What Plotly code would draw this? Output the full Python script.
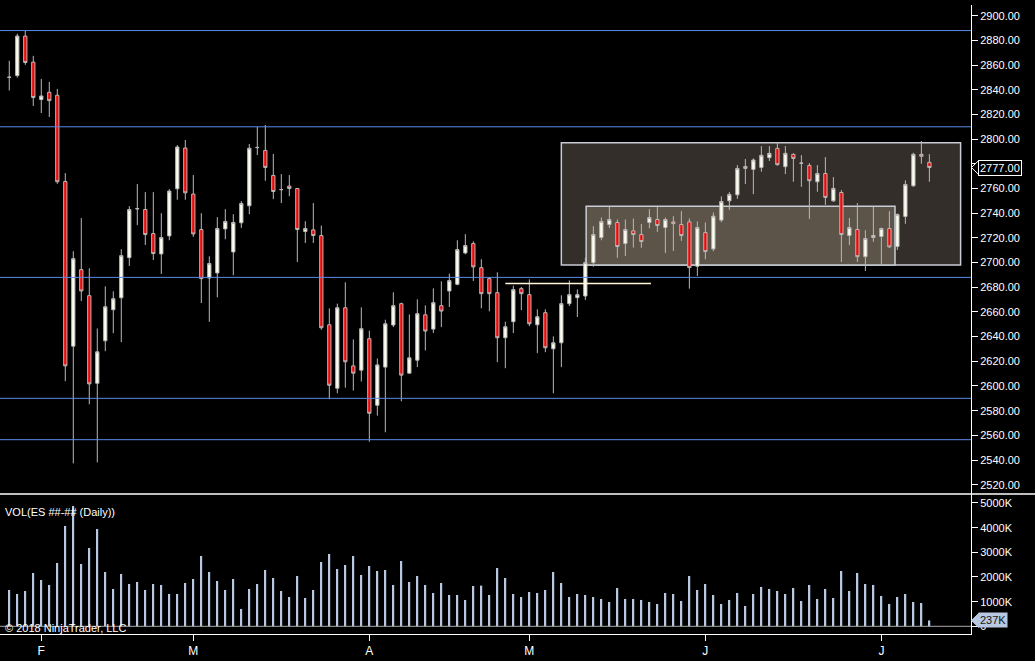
import plotly.graph_objects as go

# daily ES bars, late Jan to early Jul 2018
opens = [2850.0, 2851.5, 2883.5, 2862.4, 2832.1, 2838.0, 2835.6, 2765.7, 2632.3, 2694.3,
         2673.2, 2602.2, 2636.6, 2661.8, 2671.5, 2704.0, 2743.5, 2743.0, 2723.5, 2707.0,
         2721.6, 2759.8, 2792.8, 2755.5, 2726.8, 2687.5, 2691.6, 2727.3, 2708.6, 2732.2,
         2746.0, 2793.1, 2790.9, 2770.6, 2759.0, 2762.0, 2760.0, 2725.2, 2726.5, 2721.9,
         2649.6, 2598.2, 2663.4, 2616.3, 2612.8, 2638.3, 2584.4, 2615.3, 2649.4, 2666.7,
         2610.4, 2620.9, 2657.7, 2646.1, 2665.1, 2677.0, 2682.4, 2707.8, 2715.4, 2695.9,
         2687.0, 2675.6, 2639.1, 2652.1, 2678.9, 2674.0, 2649.6, 2659.4, 2630.1, 2635.0,
         2666.7, 2671.6, 2672.9, 2700.0, 2720.3, 2730.8, 2732.5, 2715.4, 2725.7, 2722.7,
         2732.5, 2734.9, 2728.4, 2733.0, 2730.8, 2733.0, 2697.0, 2724.3, 2711.1, 2734.4,
         2750.0, 2754.9, 2777.9, 2775.5, 2777.1, 2785.0, 2792.5, 2777.7, 2787.7, 2780.4,
         2778.7, 2765.5, 2772.2, 2750.0, 2756.8, 2721.9, 2726.8, 2704.8, 2720.3, 2721.1,
         2727.6, 2713.0, 2737.3, 2762.2, 2787.7, 2781.2]
highs = [2863.5, 2885.4, 2887.8, 2867.5, 2848.8, 2846.4, 2840.7, 2772.5, 2709.2, 2736.0,
         2695.4, 2646.6, 2680.7, 2676.7, 2710.8, 2745.7, 2763.6, 2757.1, 2757.1, 2740.0,
         2759.5, 2795.2, 2799.3, 2770.9, 2740.0, 2705.1, 2736.8, 2743.3, 2739.2, 2749.8,
         2796.1, 2809.9, 2811.5, 2788.0, 2771.7, 2770.9, 2760.5, 2733.5, 2748.2, 2730.0,
         2662.9, 2666.7, 2684.0, 2637.7, 2663.7, 2644.8, 2622.3, 2653.7, 2675.9, 2667.5,
         2658.0, 2670.2, 2665.3, 2679.1, 2684.8, 2691.0, 2718.1, 2723.0, 2717.3, 2702.7,
         2688.3, 2692.1, 2652.1, 2681.3, 2680.2, 2686.4, 2662.1, 2662.1, 2640.2, 2673.5,
         2685.6, 2678.3, 2704.0, 2729.5, 2736.5, 2745.2, 2734.9, 2734.9, 2735.7, 2731.3,
         2743.3, 2744.9, 2736.5, 2737.6, 2741.7, 2735.7, 2733.3, 2732.5, 2740.6, 2753.6,
         2757.1, 2779.0, 2783.9, 2784.4, 2794.4, 2794.4, 2797.4, 2794.4, 2788.5, 2787.1,
         2780.6, 2779.0, 2785.5, 2769.3, 2758.7, 2736.0, 2748.2, 2726.2, 2745.5, 2728.4,
         2741.7, 2739.8, 2766.6, 2789.0, 2798.5, 2787.9]
lows = [2839.4, 2849.9, 2860.2, 2826.9, 2821.2, 2818.0, 2763.8, 2603.9, 2537.3, 2668.8,
        2585.2, 2538.1, 2628.2, 2642.8, 2635.5, 2697.2, 2730.3, 2714.3, 2702.1, 2690.8,
        2718.1, 2750.9, 2750.9, 2720.8, 2667.2, 2652.0, 2671.8, 2718.9, 2689.7, 2728.1,
        2739.2, 2787.1, 2766.3, 2751.4, 2748.2, 2753.8, 2700.5, 2715.9, 2715.9, 2645.6,
        2589.3, 2594.1, 2598.7, 2596.3, 2603.6, 2554.9, 2576.0, 2562.5, 2647.7, 2587.6,
        2610.4, 2615.3, 2628.8, 2642.9, 2647.7, 2664.0, 2681.6, 2706.7, 2685.1, 2662.9,
        2660.5, 2619.3, 2614.4, 2642.9, 2661.5, 2648.5, 2626.6, 2627.4, 2594.1, 2615.3,
        2664.8, 2655.9, 2669.7, 2696.6, 2718.1, 2728.1, 2703.8, 2705.4, 2712.2, 2712.0,
        2727.8, 2724.9, 2707.8, 2709.4, 2717.6, 2678.9, 2689.1, 2702.7, 2709.2, 2732.7,
        2742.7, 2751.7, 2763.6, 2755.5, 2773.6, 2782.3, 2778.5, 2771.7, 2765.5, 2761.4,
        2735.4, 2757.4, 2746.8, 2749.2, 2700.5, 2714.1, 2700.5, 2693.2, 2716.8, 2698.1,
        2711.9, 2710.3, 2731.4, 2761.4, 2780.1, 2765.5]
closes = [2850.2, 2883.5, 2862.1, 2833.7, 2835.0, 2831.2, 2765.5, 2616.3, 2703.2, 2677.0,
          2601.7, 2627.7, 2664.2, 2670.7, 2705.6, 2743.0, 2743.7, 2722.7, 2707.3, 2720.3,
          2757.9, 2793.6, 2756.5, 2723.2, 2687.0, 2699.2, 2727.6, 2733.3, 2732.5, 2747.9,
          2792.6, 2793.3, 2777.1, 2757.6, 2759.2, 2760.0, 2726.8, 2727.6, 2721.9, 2647.2,
          2600.6, 2663.4, 2619.6, 2610.4, 2646.4, 2577.9, 2617.1, 2650.4, 2665.1, 2608.8,
          2622.8, 2658.6, 2644.5, 2667.5, 2660.7, 2685.4, 2710.5, 2713.8, 2696.5, 2674.8,
          2674.8, 2639.1, 2648.0, 2678.1, 2674.8, 2650.4, 2656.1, 2631.0, 2635.0, 2666.7,
          2674.0, 2674.0, 2700.0, 2722.7, 2733.3, 2734.9, 2713.0, 2726.8, 2722.7, 2717.0,
          2736.5, 2730.0, 2734.9, 2731.6, 2721.9, 2695.9, 2728.4, 2708.9, 2737.6, 2749.5,
          2755.2, 2776.3, 2776.3, 2783.1, 2786.9, 2788.5, 2779.3, 2788.5, 2784.4, 2780.6,
          2766.3, 2772.2, 2752.8, 2760.1, 2722.7, 2728.4, 2704.8, 2719.5, 2722.0, 2727.6,
          2712.7, 2738.9, 2763.3, 2787.7, 2786.1, 2777.0]
volumes_k = [1473, 1311, 1432, 2162, 1878, 1676, 2568, 4068, 4878, 2527,
             3176, 3946, 2203, 1514, 2122, 1716, 1797, 1473, 1716, 1676,
             1311, 1311, 1757, 1919, 2851, 2203, 1838, 1473, 1919, 703,
             1514, 1716, 2284, 1959, 1432, 1189, 2041, 1149, 1473, 2608,
             2932, 2324, 2486, 2851, 2081, 2446, 2243, 2284, 1676, 2649,
             1797, 2041, 1676, 1351, 1757, 1270, 1270, 1068, 1635, 1649,
             1270, 2365, 1959, 1311, 1189, 1392, 1351, 1473, 2203, 1757,
             1189, 1311, 1270, 1189, 1108, 986, 1554, 1108, 1108, 1068,
             986, 905, 1351, 1311, 1027, 2041, 1473, 1716, 1270, 905,
             1068, 1351, 824, 1311, 1595, 1514, 1432, 1311, 1554, 1027,
             1676, 1108, 1514, 1149, 2243, 1432, 2162, 1716, 1676, 1230,
             905, 1189, 1311, 986, 946, 237]

month_ticks = [4, 23, 45, 65, 87, 109]
month_labels = ["F", "M", "A", "M", "J", "J"]
levels = [2888, 2810, 2688, 2590, 2556.5]
last_price = 2777.00
last_volume_k = 237

bars = list(range(len(closes)))
volumes = [v * 1000 for v in volumes_k]

# drawing objects
outer_zone = dict(x0=69.0, x1=118.9, y0=2698.0, y1=2797.0)
inner_zone = dict(x0=72.1, x1=110.7, y0=2698.0, y1=2745.6)
short_line = dict(x0=62.0, x1=80.2, y=2683.0)

xrange = [-1.16, 120.2]
split = 0.2226
font = "Liberation Sans, Arial, sans-serif"

fig = go.Figure()
fig.add_trace(go.Candlestick(
    x=bars, open=opens, high=highs, low=lows, close=closes,
    increasing=dict(fillcolor="#fffff0", line=dict(color="#b9b9b9", width=1)),
    decreasing=dict(fillcolor="#ff0000", line=dict(color="#b9b9b9", width=1)),
    whiskerwidth=0, xaxis="x", yaxis="y", showlegend=False))
fig.add_trace(go.Bar(
    x=bars, y=volumes, width=0.22, marker=dict(color="#b8c8e0", line=dict(width=0)),
    xaxis="x2", yaxis="y2", showlegend=False))

shapes = []
shapes.append(dict(type="rect", xref="x", yref="y", layer="below",
                   fillcolor="#332e2a", line=dict(color="#c8ccd4", width=1.5), **outer_zone))
shapes.append(dict(type="rect", xref="x", yref="y", layer="below",
                   fillcolor="#5c5449", line=dict(color="#c8ccd4", width=1.5), **inner_zone))
for lv in levels:
    shapes.append(dict(type="line", xref="paper", yref="y", x0=0, x1=1, y0=lv, y1=lv,
                       line=dict(color="#5b8ae8", width=1)))
shapes.append(dict(type="line", xref="x", yref="y", x0=short_line["x0"], x1=short_line["x1"],
                   y0=short_line["y"], y1=short_line["y"], line=dict(color="#fff5d8", width=1.5)))
shapes.append(dict(type="line", xref="paper", yref="paper", x0=0, x1=1.07, y0=split, y1=split,
                   line=dict(color="white", width=1.5)))
shapes.append(dict(type="line", xref="paper", yref="y2", x0=0, x1=1, y0=0, y1=0,
                   line=dict(color="#a8a8a8", width=1)))
# tag pointers
shapes.append(dict(type="path", xref="paper", yref="y",
                   path=f"M 1.0005,{last_price} L 1.0078,{last_price + 5.6} L 1.0078,{last_price - 5.6} Z",
                   fillcolor="black", line=dict(color="white", width=1)))
shapes.append(dict(type="path", xref="paper", yref="y2",
                   path=f"M 1.0005,{last_volume_k * 1000} L 1.0078,{last_volume_k * 1000 + 280000} "
                        f"L 1.0078,{last_volume_k * 1000 - 280000} Z",
                   fillcolor="#b8c8e0", line=dict(color="#b8c8e0", width=1)))

annotations = [
    dict(xref="paper", yref="paper", x=0.003, y=(634 - 512) / 629, xanchor="left", yanchor="middle",
         text="VOL(ES ##-## (Daily))", showarrow=False, font=dict(family=font, size=11, color="white")),
    dict(xref="paper", yref="paper", x=0.003, y=(634 - 628) / 629, xanchor="left", yanchor="middle",
         text="© 2018 NinjaTrader, LLC", showarrow=False, font=dict(family=font, size=11, color="white")),
    dict(xref="paper", yref="y", x=1, y=last_price, xanchor="left", xshift=7, yanchor="middle",
         text=f"{last_price:.2f}", showarrow=False, bgcolor="black", bordercolor="white", borderwidth=1,
         borderpad=1, font=dict(family=font, size=11, color="white")),
    dict(xref="paper", yref="y2", x=1, y=last_volume_k * 1000, xanchor="left", xshift=7, yanchor="middle",
         text=f"{last_volume_k}K", showarrow=False, bgcolor="#b8c8e0", borderpad=1,
         font=dict(family=font, size=11, color="#101820")),
]

axis_common = dict(showgrid=False, zeroline=False, color="white")

fig.update_layout(
    width=1035, height=661, autosize=False,
    paper_bgcolor="black", plot_bgcolor="black",
    margin=dict(l=0, r=64, t=5, b=27),
    boxgap=0.42,
    font=dict(family=font, size=11, color="white"),
    showlegend=False,
    xaxis=dict(domain=[0, 1], anchor="y", range=xrange, showticklabels=False, ticks="",
               rangeslider=dict(visible=False), **axis_common),
    xaxis2=dict(domain=[0, 1], anchor="y2", range=xrange, tickvals=month_ticks, ticktext=month_labels,
                ticks="outside", ticklen=6, tickcolor="white", showline=True, linecolor="white",
                linewidth=1, tickfont=dict(family=font, size=12, color="white"), **axis_common),
    yaxis=dict(domain=[split, 1], anchor="x", side="right", range=[2512.5, 2908.7],
               tickvals=list(range(2520, 2901, 20)), tickformat=".2f", ticks="outside", ticklen=6,
               tickcolor="white", showline=True, linecolor="white", linewidth=1,
               tickfont=dict(family=font, size=11, color="white"), **axis_common),
    yaxis2=dict(domain=[0, split], anchor="x2", side="right", range=[-312000, 5365000],
                tickvals=[0, 1e6, 2e6, 3e6, 4e6, 5e6],
                ticktext=["0", "1000K", "2000K", "3000K", "4000K", "5000K"],
                ticks="outside", ticklen=6, tickcolor="white", showline=True, linecolor="white",
                linewidth=1, tickfont=dict(family=font, size=11, color="white"), **axis_common),
    shapes=shapes,
    annotations=annotations,
)

# the page's default body margin would shift the figure by 8px
fig.write_html("out.html", config={"displayModeBar": False},
               post_script="document.body.style.margin='0';document.body.style.background='black';")
